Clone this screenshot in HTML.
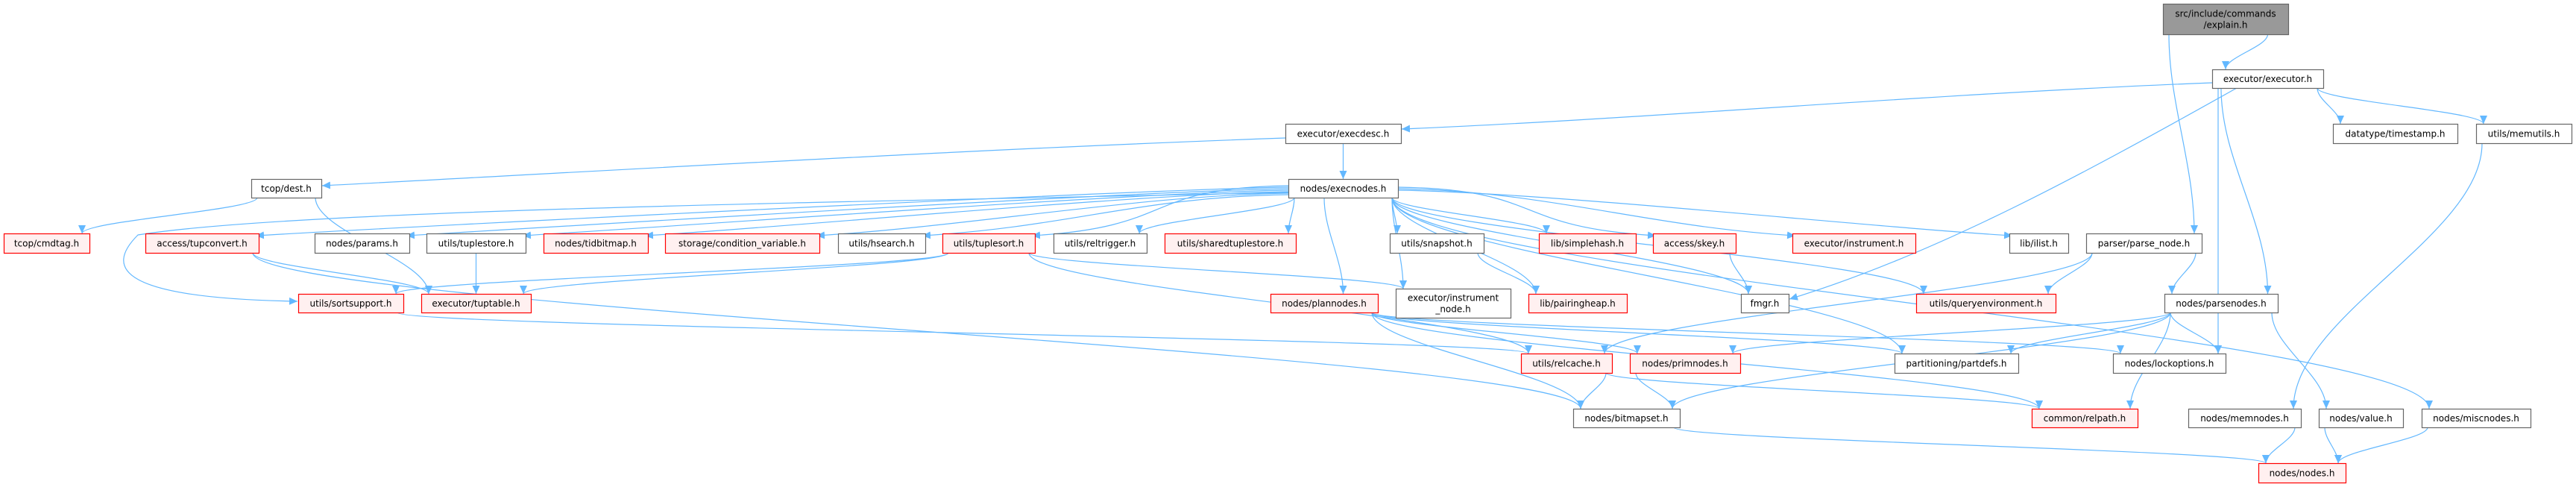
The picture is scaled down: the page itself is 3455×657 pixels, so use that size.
<!DOCTYPE html>
<html><head><meta charset="utf-8">
<style>
html,body{margin:0;padding:0;background:#fff;}
body{width:3455px;height:652px;overflow:hidden;}
svg text{font-family:"DejaVu Sans","Liberation Sans",sans-serif;font-size:12px;fill:#000;}
</style></head>
<body>
<svg id="g" width="3455" height="652" viewBox="0 0 3455 652" xmlns="http://www.w3.org/2000/svg">
<defs>
<marker id="a" markerUnits="userSpaceOnUse" markerWidth="12" markerHeight="10" refX="11" refY="5" orient="auto">
<path d="M0,0 L11,5 L0,10 Z" fill="#63b8ff"/>
</marker>
</defs>
<g id="edges" fill="none" stroke="#63b8ff" stroke-width="1.2"></g>
<g id="nodes"></g>
</svg>
<script>
var R0=[313,339],R1=[394,419],R2=[474,500],R3=[548,573];
var N={
explain:[2901,3069,5,46,'src/include/commands','/explain.h','k'],
executor:[2967,3116,93,118,'executor/executor.h'],
execdesc:[1724,1879,166,192,'executor/execdesc.h'],
timestamp:[3129,3296,166,192,'datatype/timestamp.h'],
memutils:[3321,3449,166,192,'utils/memutils.h'],
dest:[337,431,240,265,'tcop/dest.h'],
execnodes:[1728,1875,240,265,'nodes/execnodes.h'],
cmdtag:[5,120,R0[0],R0[1],'tcop/cmdtag.h','','r'],
tupconvert:[195,347,R0[0],R0[1],'access/tupconvert.h','','r'],
params:[422,549,R0[0],R0[1],'nodes/params.h'],
tuplestore:[572,705,R0[0],R0[1],'utils/tuplestore.h'],
tidbitmap:[729,869,R0[0],R0[1],'nodes/tidbitmap.h','','r'],
condvar:[892,1099,R0[0],R0[1],'storage/condition_variable.h','','r'],
hsearch:[1124,1241,R0[0],R0[1],'utils/hsearch.h'],
tuplesort:[1264,1388,R0[0],R0[1],'utils/tuplesort.h','','r'],
reltrigger:[1413,1538,R0[0],R0[1],'utils/reltrigger.h'],
sharedts:[1562,1738,R0[0],R0[1],'utils/sharedtuplestore.h','','r'],
snapshot:[1864,1990,R0[0],R0[1],'utils/snapshot.h'],
simplehash:[2064,2194,R0[0],R0[1],'lib/simplehash.h','','r'],
skey:[2217,2328,R0[0],R0[1],'access/skey.h','','r'],
instrument:[2404,2569,R0[0],R0[1],'executor/instrument.h','','r'],
ilist:[2695,2774,R0[0],R0[1],'lib/ilist.h'],
parse_node:[2798,2953,R0[0],R0[1],'parser/parse_node.h'],
sortsupport:[400,541,R1[0],R1[1],'utils/sortsupport.h','','r'],
tuptable:[565,712,R1[0],R1[1],'executor/tuptable.h','','r'],
plannodes:[1704,1848,R1[0],R1[1],'nodes/plannodes.h','','r'],
instnode:[1872,2026,387,426,'executor/instrument','_node.h'],
pairingheap:[2050,2182,R1[0],R1[1],'lib/pairingheap.h','','r'],
fmgr:[2335,2399,R1[0],R1[1],'fmgr.h'],
queryenv:[2570,2757,R1[0],R1[1],'utils/queryenvironment.h','','r'],
parsenodes:[2903,3055,R1[0],R1[1],'nodes/parsenodes.h'],
relcache:[2040,2162,R2[0],R2[1],'utils/relcache.h','','r'],
primnodes:[2186,2334,R2[0],R2[1],'nodes/primnodes.h','','r'],
partdefs:[2541,2707,R2[0],R2[1],'partitioning/partdefs.h'],
lockoptions:[2834,2985,R2[0],R2[1],'nodes/lockoptions.h'],
bitmapset:[2110,2253,R3[0],R3[1],'nodes/bitmapset.h'],
relpath:[2725,2867,R3[0],R3[1],'common/relpath.h','','r'],
memnodes:[2935,3086,R3[0],R3[1],'nodes/memnodes.h'],
value:[3110,3223,R3[0],R3[1],'nodes/value.h'],
miscnodes:[3248,3394,R3[0],R3[1],'nodes/miscnodes.h'],
nodesh:[3029,3146,621,647,'nodes/nodes.h','','r']
};
var SVGNS='http://www.w3.org/2000/svg';
function el(t,a,p){var e=document.createElementNS(SVGNS,t);for(var k in a)e.setAttribute(k,a[k]);p.appendChild(e);return e;}
var gn=document.getElementById('nodes'),ge=document.getElementById('edges');
for(var k in N){var n=N[k];
 var fill='#fff',st='#666';
 if(n[6]=='r'){fill='#fff0f0';st='#ff0000';}
 if(n[6]=='k'){fill='#999';st='#666';}
 el('rect',{x:n[0]+0.5,y:n[2]+0.5,width:n[1]-n[0],height:n[3]-n[2],fill:fill,stroke:st,'stroke-width':1.2},gn);
 var cx=(n[0]+n[1])/2;
 if(n[5]){var t1=el('text',{x:cx,y:n[2]+(n[3]-n[2])/2-3,'text-anchor':'middle'},gn);t1.textContent=n[4];
  var t2=el('text',{x:cx,y:n[2]+(n[3]-n[2])/2+12,'text-anchor':'middle'},gn);t2.textContent=n[5];}
 else{var t=el('text',{x:cx,y:(n[2]+n[3])/2+4.5,'text-anchor':'middle'},gn);t.textContent=n[4];}
}
function clamp(v,a,b){return Math.max(a,Math.min(b,v));}
function path(d){el('path',{d:d,'marker-end':'url(#a)'},ge);}
var sideIdx=0;
function edge(s,t){var S=N[s],T=N[t];
 var scx=(S[0]+S[1])/2,tcx=(T[0]+T[1])/2;
 if(s=='execnodes' && T[2]==R0[0] && Math.abs(tcx-scx)>330){
   sideIdx++;
   var sy=249+(sideIdx%7)*2;
   if(tcx<scx){var sx=S[0],ex=T[1]-4,ey=T[2]+3;
     path('M'+sx+','+sy+' C'+(sx-200)+','+(sy+3)+' '+(ex+200)+','+(ey-12)+' '+ex+','+ey);}
   else{var sx=S[1],ex=T[0]+4,ey=T[2]+3;
     path('M'+sx+','+sy+' C'+(sx+200)+','+(sy+3)+' '+(ex-200)+','+(ey-12)+' '+ex+','+ey);}
   return;}
 var sx=clamp(tcx,S[0]+8,S[1]-8),sy=S[3];
 var ex=clamp(scx,T[0]+10,T[1]-10),ey=T[2];
 var dy=ey-sy;
 path('M'+sx+','+sy+' C'+sx+','+(sy+dy*0.35)+' '+ex+','+(ey-dy*0.35)+' '+ex+','+ey);}
var E=[['explain','executor'],['explain','parse_node'],
['executor','timestamp'],['executor','memutils'],['executor','parsenodes'],
['execdesc','execnodes'],['dest','cmdtag'],['dest','tuptable'],['memutils','memnodes'],
['execnodes','tupconvert'],['execnodes','params'],['execnodes','tuplestore'],['execnodes','tidbitmap'],
['execnodes','condvar'],['execnodes','hsearch'],['execnodes','tuplesort'],['execnodes','reltrigger'],
['execnodes','sharedts'],['execnodes','snapshot'],['execnodes','simplehash'],['execnodes','skey'],
['execnodes','instrument'],['execnodes','ilist'],['execnodes','plannodes'],['execnodes','instnode'],
['execnodes','pairingheap'],['execnodes','fmgr'],['execnodes','queryenv'],['execnodes','partdefs'],
['execnodes','miscnodes'],
['tupconvert','tuptable'],['tupconvert','bitmapset'],['tuplestore','tuptable'],
['tuplesort','tuptable'],['tuplesort','sortsupport'],['tuplesort','instnode'],['tuplesort','relcache'],
['sortsupport','relcache'],['snapshot','pairingheap'],['skey','fmgr'],
['plannodes','bitmapset'],['plannodes','primnodes'],['plannodes','lockoptions'],['plannodes','relpath'],['plannodes','partdefs'],
['parse_node','queryenv'],['parse_node','parsenodes'],['parse_node','relcache'],
['parsenodes','partdefs'],['parsenodes','lockoptions'],['parsenodes','relpath'],['parsenodes','value'],
['parsenodes','bitmapset'],['parsenodes','primnodes'],
['relcache','bitmapset'],['relcache','relpath'],['primnodes','bitmapset'],['bitmapset','nodesh'],
['memnodes','nodesh'],['value','nodesh'],['miscnodes','nodesh'],['executor','lockoptions']];
E.forEach(function(e){edge(e[0],e[1]);});
path('M2967,111 C2600,125 2200,160 1880,173');
path('M1724,185 C1300,200 800,230 432,249');
path('M3000,118 C2800,230 2600,340 2400,401');
path('M1728,258 C1200,270 400,280 185,315 C140,360 160,400 399,404');
</script>
</body></html>
